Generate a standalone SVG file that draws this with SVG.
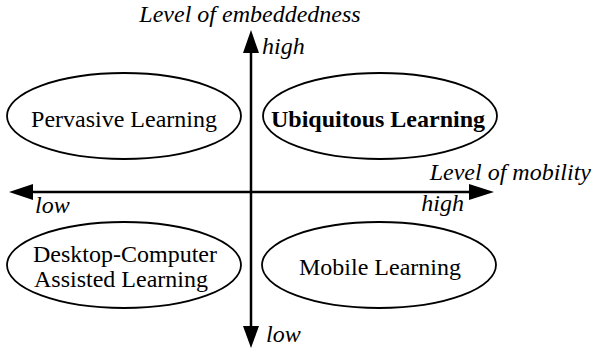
<svg xmlns="http://www.w3.org/2000/svg" width="595" height="354" viewBox="0 0 595 354">
<style>
text{font-family:"Liberation Serif","Times New Roman",serif;fill:#000}
.n{font-size:24px}
.i{font-size:24px;font-style:italic}
.b{font-weight:bold}
ellipse{fill:#fff;stroke:#000;stroke-width:1.8}
.ax{stroke:#000;stroke-width:2.5;fill:none}
</style>
<rect width="595" height="354" fill="#fff"/>
<g id="connectors">
<line class="ax" x1="251" y1="50" x2="251" y2="330"/>
<polygon points="251,30 243,53 259,53"/>
<polygon points="251,348 243,326 259,326"/>
<line class="ax" x1="30" y1="192" x2="472" y2="192"/>
<polygon points="9,192 33,184 33,200"/>
<polygon points="494,192 469,184 469,200"/>
</g>
<g id="labels">
<text class="i" x="250" y="22" text-anchor="middle">Level of embeddedness</text>
<text class="i" x="262" y="54">high</text>
<text class="i" x="591" y="180" text-anchor="end">Level of mobility</text>
<text class="i" x="35" y="213">low</text>
<text class="i" x="464" y="211" text-anchor="end">high</text>
<text class="i" x="266" y="342">low</text>
</g>
<g id="pervasive">
<ellipse cx="124" cy="116" rx="117" ry="43"/>
<text class="n" x="124" y="127" text-anchor="middle">Pervasive Learning</text>
</g>
<g id="ubiquitous">
<ellipse cx="380" cy="116" rx="117" ry="43"/>
<text class="n b" x="378" y="127" text-anchor="middle">Ubiquitous Learning</text>
</g>
<g id="desktop">
<ellipse cx="124" cy="265" rx="117" ry="43"/>
<text class="n" x="125" y="262" text-anchor="middle">Desktop-Computer</text>
<text class="n" x="121" y="287" text-anchor="middle">Assisted Learning</text>
</g>
<g id="mobile">
<ellipse cx="379" cy="265" rx="117" ry="43"/>
<text class="n" x="380" y="275" text-anchor="middle">Mobile Learning</text>
</g>
</svg>
